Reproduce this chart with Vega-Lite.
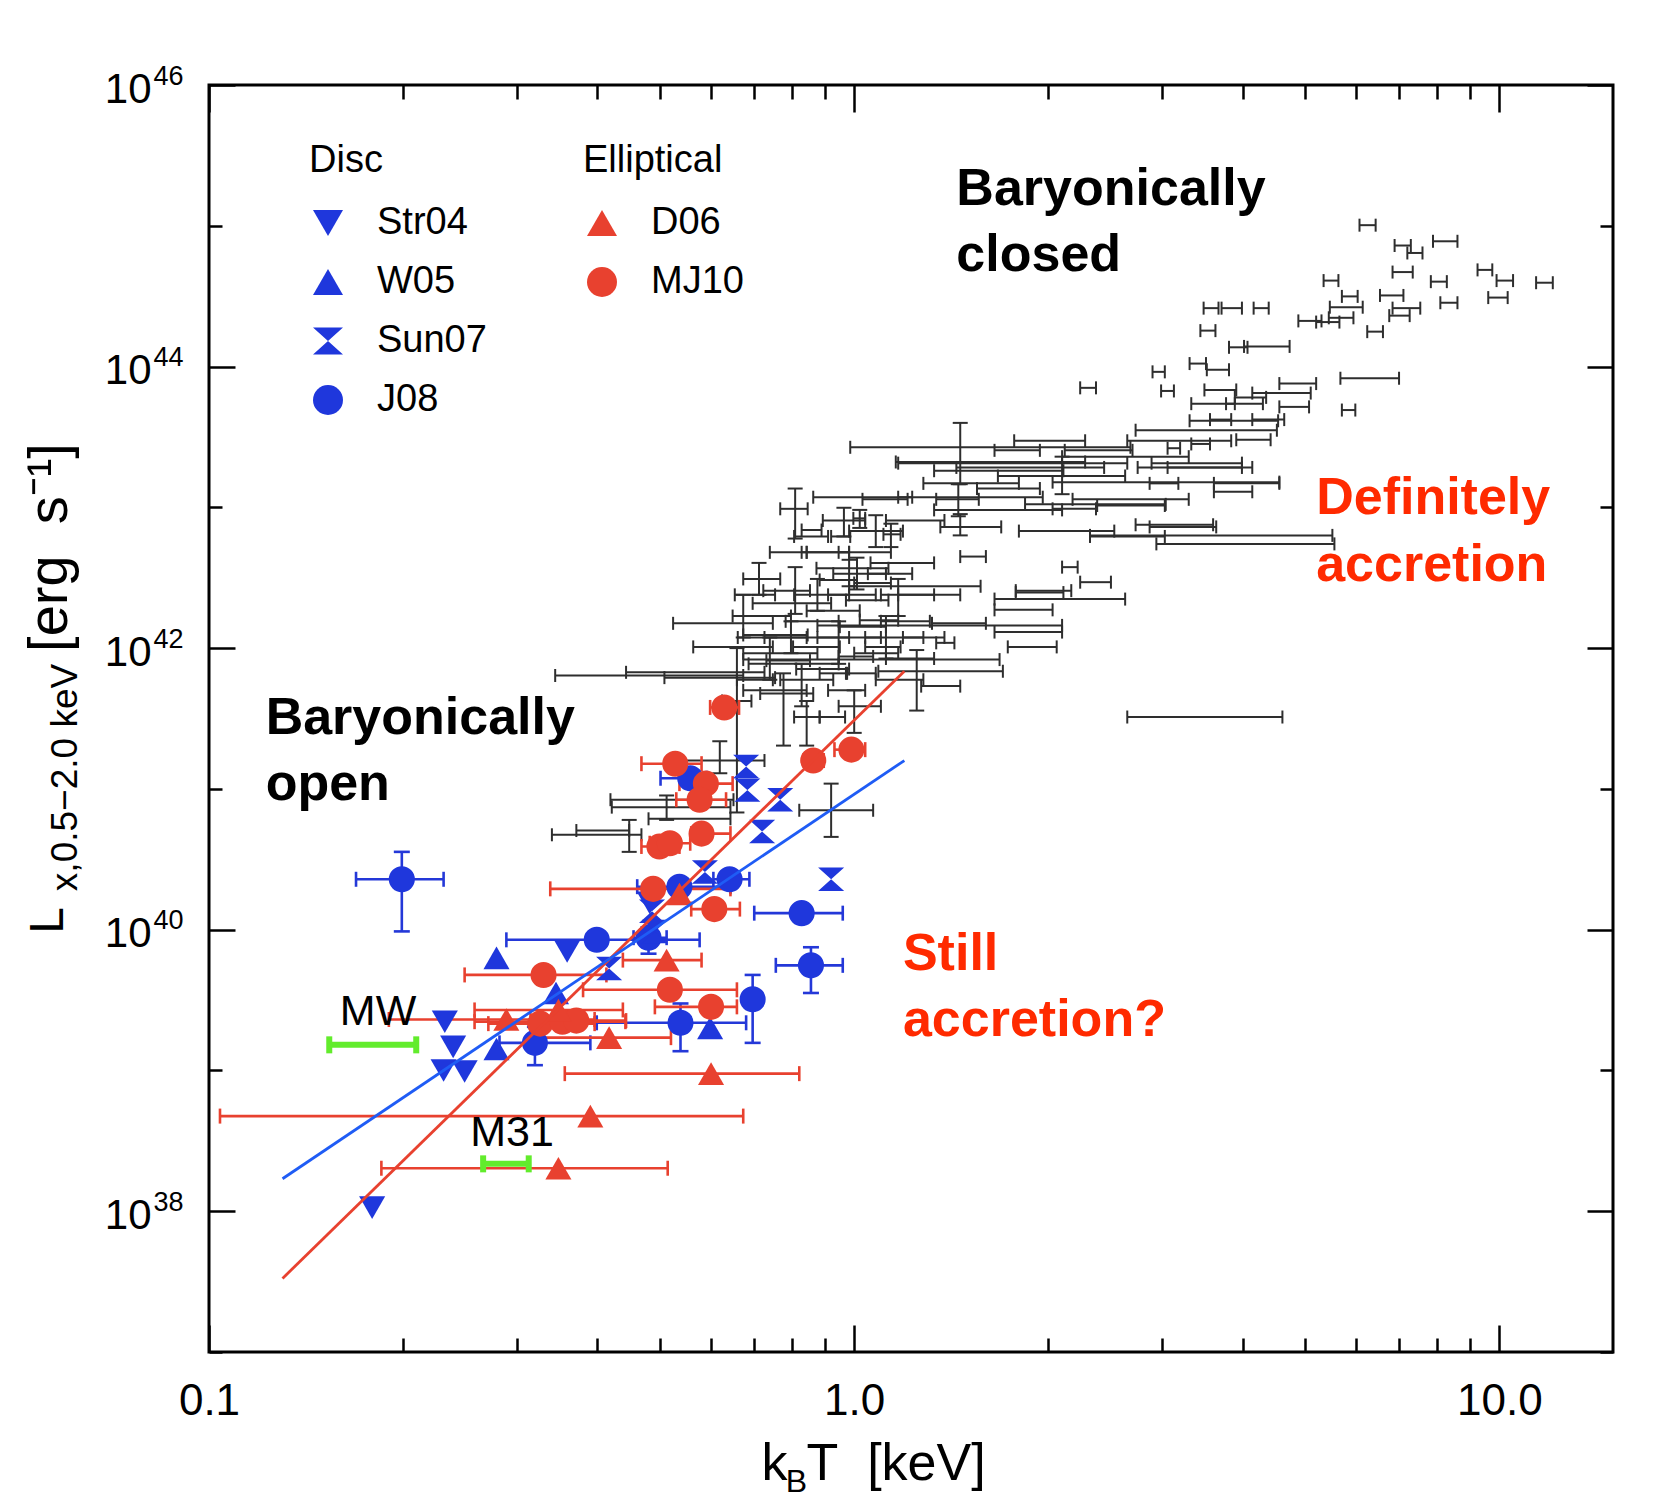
{
"$schema": "https://vega.github.io/schema/vega-lite/v6.json",
"width": 1404, "height": 1267,
"autosize": {"type": "none"},
"padding": {"left": 209, "top": 85, "right": 52, "bottom": 154},
"background": "white",
"config": {
 "view": {"stroke": "black", "strokeWidth": 3},
 "axis": {"grid": false, "domain": false, "tickColor": "black", "tickWidth": 2.5, "labelColor": "black", "titleColor": "black", "labelFont": "Liberation Sans", "titleFont": "Liberation Sans", "titleFontWeight": "normal"}
},
"datasets": {
 "gal": [
  {"T":6.24,"L":1.01e45,"Tlo":6.07,"Thi":6.43},
  {"T":7.07,"L":7.24e44,"Tlo":6.88,"Thi":7.29},
  {"T":7.37,"L":6.41e44,"Tlo":7.20,"Thi":7.60},
  {"T":8.26,"L":7.76e44,"Tlo":7.89,"Thi":8.61},
  {"T":7.07,"L":4.69e44,"Tlo":6.83,"Thi":7.34},
  {"T":5.48,"L":4.08e44,"Tlo":5.34,"Thi":5.63},
  {"T":8.04,"L":4.01e44,"Tlo":7.83,"Thi":8.29},
  {"T":9.46,"L":4.86e44,"Tlo":9.25,"Thi":9.75},
  {"T":10.2,"L":4.08e44,"Tlo":9.90,"Thi":10.5},
  {"T":11.8,"L":3.94e44,"Tlo":11.4,"Thi":12.1},
  {"T":9.94,"L":3.09e44,"Tlo":9.61,"Thi":10.3},
  {"T":8.35,"L":2.84e44,"Tlo":8.10,"Thi":8.61},
  {"T":6.78,"L":3.20e44,"Tlo":6.53,"Thi":7.10},
  {"T":7.18,"L":2.60e44,"Tlo":6.83,"Thi":7.54},
  {"T":6.99,"L":2.30e44,"Tlo":6.75,"Thi":7.26},
  {"T":6.43,"L":1.77e44,"Tlo":6.24,"Thi":6.60},
  {"T":5.85,"L":3.15e44,"Tlo":5.70,"Thi":6.03},
  {"T":5.83,"L":2.64e44,"Tlo":5.46,"Thi":6.14},
  {"T":5.05,"L":2.11e44,"Tlo":4.88,"Thi":5.30},
  {"T":5.40,"L":2.07e44,"Tlo":5.20,"Thi":5.65},
  {"T":5.67,"L":2.22e44,"Tlo":5.44,"Thi":5.94},
  {"T":3.57,"L":2.60e44,"Tlo":3.48,"Thi":3.67},
  {"T":3.85,"L":2.60e44,"Tlo":3.71,"Thi":3.99},
  {"T":4.27,"L":2.60e44,"Tlo":4.16,"Thi":4.39},
  {"T":3.53,"L":1.80e44,"Tlo":3.44,"Thi":3.63},
  {"T":5.83,"L":4.91e43,"Tlo":5.70,"Thi":5.98},
  {"T":6.10,"L":8.26e43,"Tlo":5.67,"Thi":6.99},
  {"T":2.30,"L":7.06e43,"Tlo":2.24,"Thi":2.37},
  {"T":2.96,"L":9.17e43,"Tlo":2.90,"Thi":3.03},
  {"T":3.06,"L":6.71e43,"Tlo":2.99,"Thi":3.13},
  {"T":3.40,"L":1.05e44,"Tlo":3.31,"Thi":3.51},
  {"T":3.93,"L":1.37e44,"Tlo":3.81,"Thi":4.07},
  {"T":4.19,"L":1.39e44,"Tlo":4.02,"Thi":4.73},
  {"T":3.69,"L":6.82e43,"Tlo":3.49,"Thi":3.91},
  {"T":3.64,"L":9.49e43,"Tlo":3.52,"Thi":3.81},
  {"T":3.56,"L":5.45e43,"Tlo":3.33,"Thi":3.89},
  {"T":4.10,"L":6.04e43,"Tlo":3.89,"Thi":4.35},
  {"T":4.73,"L":7.57e43,"Tlo":4.56,"Thi":5.20},
  {"T":4.50,"L":6.48e43,"Tlo":4.14,"Thi":5.10},
  {"T":4.79,"L":5.17e43,"Tlo":4.56,"Thi":5.07},
  {"T":3.85,"L":4.12e43,"Tlo":3.31,"Thi":4.54},
  {"T":4.01,"L":5.45e43,"Tlo":3.77,"Thi":4.30},
  {"T":3.43,"L":2.82e43,"Tlo":3.33,"Thi":3.56},
  {"T":4.14,"L":3.02e43,"Tlo":3.91,"Thi":4.42},
  {"T":3.12,"L":2.63e43,"Tlo":3.06,"Thi":3.20},
  {"T":3.35,"L":2.06e43,"Tlo":2.89,"Thi":3.99},
  {"T":3.08,"L":1.48e43,"Tlo":2.87,"Thi":3.18},
  {"T":3.85,"L":1.48e43,"Tlo":3.61,"Thi":4.56},
  {"T":3.85,"L":1.29e43,"Tlo":3.61,"Thi":4.14},
  {"T":3.00,"L":7.26e42,"Tlo":2.87,"Thi":3.64},
  {"T":4.26,"L":5.50e42,"Tlo":2.94,"Thi":5.55},
  {"T":3.70,"L":4.20e43,"Tlo":3.56,"Thi":3.84},
  {"T":4.39,"L":4.20e43,"Tlo":4.14,"Thi":4.64},
  {"T":1.46,"L":2.10e43,"Tlo":1.16,"Thi":2.28,"Llo":1.46e43,"Lhi":3.98e43},
  {"T":1.61,"L":2.67e43,"Tlo":0.986,"Thi":2.68},
  {"T":1.73,"L":2.06e43,"Tlo":1.17,"Thi":2.65},
  {"T":1.67,"L":1.82e43,"Tlo":1.33,"Thi":2.11},
  {"T":1.79,"L":2.54e43,"Tlo":1.65,"Thi":1.94},
  {"T":2.02,"L":2.97e43,"Tlo":1.77,"Thi":2.28},
  {"T":3.06,"L":2.97e43,"Tlo":2.65,"Thi":3.84},
  {"T":3.30,"L":3.53e43,"Tlo":2.73,"Thi":4.52},
  {"T":3.18,"L":1.92e43,"Tlo":2.75,"Thi":3.99},
  {"T":2.95,"L":1.51e43,"Tlo":2.03,"Thi":4.56},
  {"T":1.44,"L":1.18e43,"Tlo":1.17,"Thi":1.96},
  {"T":1.45,"L":1.14e43,"Tlo":1.34,"Thi":1.56,"Llo":8.64e42,"Lhi":1.46e43},
  {"T":2.26,"L":1.05e43,"Tlo":1.84,"Thi":3.04},
  {"T":2.18,"L":9.76e42,"Tlo":2.03,"Thi":2.37},
  {"T":3.06,"L":7.52e42,"Tlo":2.73,"Thi":3.60},
  {"T":3.43,"L":6.32e42,"Tlo":2.32,"Thi":5.51},
  {"T":2.15,"L":3.76e42,"Tlo":2.10,"Thi":2.22},
  {"T":2.35,"L":2.94e42,"Tlo":2.24,"Thi":2.50},
  {"T":1.94,"L":2.48e42,"Tlo":1.78,"Thi":2.11},
  {"T":2.10,"L":2.23e42,"Tlo":1.65,"Thi":2.63},
  {"T":1.87,"L":1.02e42,"Tlo":1.73,"Thi":2.06},
  {"T":1.25,"L":6.85e41,"Tlo":1.09,"Thi":1.70,"Llo":3.60e41,"Lhi":9.69e41},
  {"T":1.36,"L":5.37e41,"Tlo":1.27,"Thi":1.46},
  {"T":3.63,"L":3.24e41,"Tlo":2.65,"Thi":4.61},
  {"T":1.33,"L":1.45e42,"Tlo":0.877,"Thi":2.10},
  {"T":1.38,"L":1.09e42,"Tlo":1.34,"Thi":1.43},
  {"T":1.06,"L":8.29e41,"Tlo":0.673,"Thi":1.68},
  {"T":1.86,"L":1.30e42,"Tlo":1.65,"Thi":2.10},
  {"T":1.44,"L":1.50e42,"Tlo":1.32,"Thi":1.60},
  {"T":1.52,"L":4.47e42,"Tlo":1.46,"Thi":1.60},
  {"T":1.46,"L":7.26e42,"Tlo":1.36,"Thi":1.69,"Llo":6.32e42,"Lhi":8.95e42},
  {"T":1.38,"L":2.75e42,"Tlo":0.982,"Thi":1.57},
  {"T":1.98,"L":2.56e42,"Tlo":1.78,"Thi":2.17},
  {"T":1.80,"L":1.87e42,"Tlo":1.65,"Thi":2.03},
  {"T":2.65,"L":6.21e42,"Tlo":2.32,"Thi":3.03},
  {"T":2.68,"L":1.03e43,"Tlo":2.38,"Thi":3.03},
  {"T":2.39,"L":2.54e43,"Tlo":2.12,"Thi":2.70},
  {"T":1.73,"L":1.36e43,"Tlo":1.55,"Thi":1.94},
  {"T":0.810,"L":9.76e42,"Tlo":0.768,"Thi":0.847,"Llo":6.00e42,"Lhi":1.36e43},
  {"T":1.02,"L":1.18e43,"Tlo":0.864,"Thi":1.23},
  {"T":0.860,"L":6.90e42,"Tlo":0.829,"Thi":0.890},
  {"T":0.953,"L":6.21e42,"Tlo":0.921,"Thi":0.986},
  {"T":1.02,"L":8.35e42,"Tlo":0.997,"Thi":1.04,"Llo":7.14e42,"Lhi":9.59e42},
  {"T":1.14,"L":6.43e42,"Tlo":1.11,"Thi":1.18,"Llo":5.22e42,"Lhi":7.65e42},
  {"T":0.982,"L":3.69e42,"Tlo":0.874,"Thi":1.13,"Llo":2.75e42,"Lhi":4.24e42},
  {"T":0.810,"L":2.56e42,"Tlo":0.723,"Thi":0.854,"Llo":1.75e42,"Lhi":3.76e42},
  {"T":0.813,"L":2.08e42,"Tlo":0.696,"Thi":0.921},
  {"T":0.648,"L":1.50e42,"Tlo":0.524,"Thi":0.748},
  {"T":0.673,"L":1.02e42,"Tlo":0.563,"Thi":0.748},
  {"T":0.461,"L":6.39e41,"Tlo":0.344,"Thi":0.673},
  {"T":0.578,"L":6.73e41,"Tlo":0.443,"Thi":0.726},
  {"T":0.624,"L":6.17e41,"Tlo":0.508,"Thi":0.754},
  {"T":0.696,"L":5.96e41,"Tlo":0.658,"Thi":0.748},
  {"T":0.786,"L":8.15e41,"Tlo":0.731,"Thi":0.854},
  {"T":0.854,"L":1.02e42,"Tlo":0.804,"Thi":0.950},
  {"T":0.939,"L":6.62e41,"Tlo":0.884,"Thi":0.975},
  {"T":0.777,"L":4.76e41,"Tlo":0.715,"Thi":0.864,"Llo":2.03e41,"Lhi":6.62e41},
  {"T":0.844,"L":3.24e41,"Tlo":0.807,"Thi":0.884,"Llo":2.03e41,"Lhi":4.21e41},
  {"T":0.928,"L":3.24e41,"Tlo":0.884,"Thi":0.968},
  {"T":0.997,"L":1.42e42,"Tlo":0.950,"Thi":1.12},
  {"T":1.04,"L":2.19e42,"Tlo":0.971,"Thi":1.13},
  {"T":1.07,"L":2.90e42,"Tlo":1.00,"Thi":1.14},
  {"T":0.950,"L":3.05e42,"Tlo":0.884,"Thi":1.01},
  {"T":1.08,"L":1.58e42,"Tlo":1.02,"Thi":1.17},
  {"T":1.11,"L":1.02e42,"Tlo":1.04,"Thi":1.18},
  {"T":0.997,"L":8.73e41,"Tlo":0.946,"Thi":1.07},
  {"T":1.04,"L":6.62e41,"Tlo":0.971,"Thi":1.08},
  {"T":0.658,"L":4.21e41,"Tlo":0.624,"Thi":0.693,"Llo":6.80e40,"Lhi":1.00e42},
  {"T":0.619,"L":1.59e41,"Tlo":0.536,"Thi":0.726,"Llo":1.29e41,"Lhi":2.18e41},
  {"T":0.921,"L":7.05e40,"Tlo":0.822,"Thi":1.07,"Llo":4.56e40,"Lhi":1.09e41},
  {"T":0.536,"L":8.38e40,"Tlo":0.419,"Thi":0.650},
  {"T":0.408,"L":5.06e40,"Tlo":0.371,"Thi":0.448},
  {"T":0.448,"L":4.72e40,"Tlo":0.340,"Thi":0.468,"Llo":3.57e40,"Lhi":6.02e40},
  {"T":0.512,"L":7.42e40,"Tlo":0.421,"Thi":0.643,"Llo":6.02e40,"Lhi":8.98e40},
  {"T":0.524,"L":6.13e40,"Tlo":0.480,"Thi":0.643},
  {"T":1.19,"L":4.03e42,"Tlo":1.06,"Thi":1.33},
  {"T":1.28,"L":2.39e42,"Tlo":1.17,"Thi":1.46},
  {"T":1.23,"L":8.06e42,"Tlo":1.12,"Thi":1.38},
  {"T":1.12,"L":1.19e42,"Tlo":1.04,"Thi":1.28,"Llo":8.43e41,"Lhi":1.69e42},
  {"T":0.894,"L":4.79e42,"Tlo":0.829,"Thi":0.982},
  {"T":0.748,"L":1.24e42,"Tlo":0.673,"Thi":0.847},
  {"T":0.673,"L":1.69e42,"Tlo":0.648,"Thi":0.798,"Llo":1.19e42,"Lhi":2.39e42},
  {"T":0.704,"L":1.19e42,"Tlo":0.660,"Thi":0.844},
  {"T":0.740,"L":9.20e41,"Tlo":0.673,"Thi":0.877,"Llo":5.96e41,"Lhi":1.19e42},
  {"T":0.768,"L":7.73e41,"Tlo":0.686,"Thi":0.946},
  {"T":0.798,"L":1.19e42,"Tlo":0.726,"Thi":0.982,"Llo":9.20e41,"Lhi":1.55e42},
  {"T":0.844,"L":1.55e42,"Tlo":0.783,"Thi":0.946},
  {"T":0.877,"L":2.39e42,"Tlo":0.807,"Thi":0.982,"Llo":1.84e42,"Lhi":3.10e42},
  {"T":0.911,"L":1.84e42,"Tlo":0.844,"Thi":1.02},
  {"T":0.946,"L":1.19e42,"Tlo":0.877,"Thi":1.10,"Llo":7.73e41,"Lhi":1.55e42},
  {"T":0.982,"L":2.39e42,"Tlo":0.911,"Thi":1.08},
  {"T":1.01,"L":3.38e42,"Tlo":0.928,"Thi":1.12,"Llo":2.61e42,"Lhi":4.39e42},
  {"T":1.04,"L":4.79e42,"Tlo":0.946,"Thi":1.14},
  {"T":1.08,"L":6.78e42,"Tlo":0.982,"Thi":1.19,"Llo":5.22e42,"Lhi":8.79e42},
  {"T":1.12,"L":3.38e42,"Tlo":1.05,"Thi":1.23},
  {"T":1.17,"L":2.39e42,"Tlo":1.10,"Thi":1.33,"Llo":1.69e42,"Lhi":3.10e42},
  {"T":0.731,"L":5.01e41,"Tlo":0.673,"Thi":0.844},
  {"T":0.829,"L":5.96e41,"Tlo":0.768,"Thi":0.928,"Llo":3.86e41,"Lhi":7.73e41},
  {"T":0.877,"L":7.10e41,"Tlo":0.813,"Thi":0.982},
  {"T":0.964,"L":5.01e41,"Tlo":0.911,"Thi":1.04},
  {"T":1.00,"L":3.86e41,"Tlo":0.946,"Thi":1.10,"Llo":2.50e41,"Lhi":5.01e41},
  {"T":1.19,"L":1.55e42,"Tlo":1.10,"Thi":1.31},
  {"T":1.21,"L":8.44e41,"Tlo":1.12,"Thi":1.33},
  {"T":1.10,"L":1.14e43,"Tlo":1.03,"Thi":1.21},
  {"T":0.964,"L":8.06e42,"Tlo":0.894,"Thi":1.04,"Llo":6.21e42,"Lhi":9.93e42},
  {"T":0.911,"L":4.79e42,"Tlo":0.844,"Thi":0.982},
  {"T":0.686,"L":2.39e42,"Tlo":0.653,"Thi":0.754},
  {"T":0.712,"L":3.10e42,"Tlo":0.673,"Thi":0.768,"Llo":2.39e42,"Lhi":4.03e42},
  {"T":0.783,"L":4.79e42,"Tlo":0.740,"Thi":0.844},
  {"T":0.844,"L":6.21e42,"Tlo":0.807,"Thi":0.911},
  {"T":1.06,"L":9.20e41,"Tlo":1.00,"Thi":1.17},
  {"T":1.14,"L":5.96e41,"Tlo":1.08,"Thi":1.28},
  {"T":1.26,"L":1.19e42,"Tlo":1.19,"Thi":1.38},
  {"T":1.80,"L":1.92e43,"Tlo":1.44,"Thi":2.44},
  {"T":2.10,"L":1.67e43,"Tlo":1.67,"Thi":2.63,"Llo":1.24e43,"Lhi":2.29e43},
  {"T":2.53,"L":2.29e43,"Tlo":2.10,"Thi":3.30},
  {"T":1.44,"L":1.48e43,"Tlo":1.28,"Thi":1.80},
  {"T":2.53,"L":1.14e43,"Tlo":2.18,"Thi":3.30},
  {"T":1.61,"L":9.59e42,"Tlo":1.33,"Thi":2.10},
  {"T":2.10,"L":6.78e42,"Tlo":1.80,"Thi":2.53},
  {"T":3.56,"L":1.92e43,"Tlo":3.06,"Thi":4.14}
 ],
 "disc": [
  {"series":"J08","T":0.199,"L":2.28e40,"Tlo":0.169,"Thi":0.231,"Llo":9.72e39,"Lhi":3.57e40},
  {"series":"J08","T":0.320,"L":1.57e39,"Tlo":0.282,"Thi":0.390,"Llo":1.09e39,"Lhi":2.04e39},
  {"series":"J08","T":0.399,"L":8.47e39,"Tlo":0.289,"Thi":0.576},
  {"series":"J08","T":0.480,"L":8.77e39,"Tlo":0.455,"Thi":0.512,"Llo":6.75e39,"Lhi":1.04e40},
  {"series":"J08","T":0.538,"L":2.18e39,"Tlo":0.399,"Thi":0.680,"Llo":1.37e39,"Lhi":2.99e39},
  {"series":"J08","T":0.696,"L":3.20e39,"Tlo":0.673,"Thi":0.720,"Llo":1.57e39,"Lhi":4.77e39},
  {"series":"J08","T":0.857,"L":5.58e39,"Tlo":0.756,"Thi":0.960,"Llo":3.55e39,"Lhi":7.50e39},
  {"series":"J08","T":0.829,"L":1.31e40,"Tlo":0.700,"Thi":0.960},
  {"series":"J08","T":0.641,"L":2.28e40,"Tlo":0.605,"Thi":0.688},
  {"series":"J08","T":0.536,"L":2.02e40,"Tlo":0.461,"Thi":0.643},
  {"series":"J08","T":0.557,"L":1.19e41,"Tlo":0.501,"Thi":0.591},
  {"series":"W05","T":0.279,"L":6.30e39},
  {"series":"W05","T":0.279,"L":1.42e39},
  {"series":"W05","T":0.598,"L":2.00e39},
  {"series":"W05","T":0.345,"L":3.55e39},
  {"series":"Str04","T":0.179,"L":1.06e38},
  {"series":"Str04","T":0.232,"L":2.22e39},
  {"series":"Str04","T":0.239,"L":1.47e39},
  {"series":"Str04","T":0.231,"L":1.00e39},
  {"series":"Str04","T":0.249,"L":9.83e38},
  {"series":"Str04","T":0.359,"L":6.99e39},
  {"series":"Str04","T":0.482,"L":1.55e40},
  {"series":"Sun07","T":0.680,"L":1.44e41},
  {"series":"Sun07","T":0.683,"L":9.80e40},
  {"series":"Sun07","T":0.768,"L":8.38e40},
  {"series":"Sun07","T":0.720,"L":4.98e40},
  {"series":"Sun07","T":0.587,"L":2.57e40},
  {"series":"Sun07","T":0.921,"L":2.28e40},
  {"series":"Sun07","T":0.486,"L":1.35e40},
  {"series":"Sun07","T":0.491,"L":9.72e39},
  {"series":"Sun07","T":0.417,"L":5.30e39}
 ],
 "ell": [
  {"series":"MJ10","T":0.629,"L":3.79e41,"Tlo":0.598,"Thi":0.663},
  {"series":"MJ10","T":0.528,"L":1.51e41,"Tlo":0.468,"Thi":0.580},
  {"series":"MJ10","T":0.589,"L":1.09e41,"Tlo":0.536,"Thi":0.648},
  {"series":"MJ10","T":0.576,"L":8.38e40,"Tlo":0.530,"Thi":0.633},
  {"series":"MJ10","T":0.864,"L":1.59e41,"Tlo":0.835,"Thi":0.897},
  {"series":"MJ10","T":0.990,"L":1.90e41,"Tlo":0.932,"Thi":1.04},
  {"series":"MJ10","T":0.580,"L":4.81e40,"Tlo":0.559,"Thi":0.643},
  {"series":"MJ10","T":0.499,"L":3.90e40,"Tlo":0.468,"Thi":0.536},
  {"series":"MJ10","T":0.518,"L":4.11e40,"Tlo":0.482,"Thi":0.557},
  {"series":"MJ10","T":0.488,"L":1.95e40,"Tlo":0.338,"Thi":0.643},
  {"series":"MJ10","T":0.607,"L":1.40e40,"Tlo":0.559,"Thi":0.665},
  {"series":"MJ10","T":0.518,"L":3.74e39,"Tlo":0.380,"Thi":0.658},
  {"series":"MJ10","T":0.600,"L":2.83e39,"Tlo":0.491,"Thi":0.658},
  {"series":"MJ10","T":0.330,"L":4.77e39,"Tlo":0.249,"Thi":0.413},
  {"series":"MJ10","T":0.326,"L":2.15e39,"Tlo":0.271,"Thi":0.396},
  {"series":"MJ10","T":0.353,"L":2.22e39,"Tlo":0.258,"Thi":0.442},
  {"series":"MJ10","T":0.371,"L":2.26e39,"Tlo":0.315,"Thi":0.443},
  {"series":"D06","T":0.289,"L":2.30e39,"Tlo":0.190,"Thi":0.396},
  {"series":"D06","T":0.348,"L":2.69e39,"Tlo":0.258,"Thi":0.438},
  {"series":"D06","T":0.417,"L":1.71e39,"Tlo":0.315,"Thi":0.520},
  {"series":"D06","T":0.512,"L":6.08e39,"Tlo":0.438,"Thi":0.580},
  {"series":"D06","T":0.600,"L":9.49e38,"Tlo":0.356,"Thi":0.822},
  {"series":"D06","T":0.390,"L":4.74e38,"Tlo":0.104,"Thi":0.673},
  {"series":"D06","T":0.348,"L":2.02e38,"Tlo":0.185,"Thi":0.514},
  {"series":"D06","T":0.536,"L":1.79e40}
 ],
 "fits": [
  {"fit":"Elliptical","T":0.130,"L":3.33e37},
  {"fit":"Elliptical","T":1.196,"L":6.85e41},
  {"fit":"Disc","T":0.130,"L":1.70e38},
  {"fit":"Disc","T":1.196,"L":1.59e41}
 ],
 "local": [
  {"name":"MW","Tlo":0.1536,"Thi":0.2095,"L":1.52e39},
  {"name":"M31","Tlo":0.266,"Thi":0.313,"L":2.17e38}
 ],
 "notes": [
  {"label":"Baryonically","kind":"region","T":1.44,"L":1.82e45},
  {"label":"closed","kind":"region","T":1.44,"L":6.19e44},
  {"label":"Baryonically","kind":"region","T":0.1224,"L":3.19e41},
  {"label":"open","kind":"region","T":0.1224,"L":1.09e41},
  {"label":"Definitely","kind":"accretion","T":5.20,"L":1.16e43},
  {"label":"accretion","kind":"accretion","T":5.20,"L":3.89e42},
  {"label":"Still","kind":"accretion","T":1.19,"L":6.75e39},
  {"label":"accretion?","kind":"accretion","T":1.19,"L":2.30e39},
  {"label":"MW","kind":"galaxy","T":0.1595,"L":2.60e39},
  {"label":"M31","kind":"galaxy","T":0.254,"L":3.59e38}
 ]
},
"resolve": {
 "scale": {"color": "independent", "shape": "independent"},
 "axis": {"x": "independent", "y": "independent"},
 "legend": {"color": "independent", "shape": "independent"}
},
"layer": [
 {"data": {"name": "gal"},
  "mark": {"type": "rule", "color": "#2e2e2e", "strokeWidth": 2},
  "encoding": {
   "x": {"field": "Tlo", "type": "quantitative", "scale": {"type": "log", "domain": [0.1, 15], "nice": false},
    "axis": {"orient": "bottom", "values": [0.1, 1, 10], "labelExpr": "datum.value < 0.5 ? '0.1' : (datum.value < 5 ? '1.0' : '10.0')", "ticks": false, "labelFontSize": 44, "labelPadding": 27, "labelFlush": false, "labelOverlap": false, "title": "k", "titleFontSize": 52, "titleX": 565, "titleY": 111, "titleBaseline": "middle", "titleAlign": "center"}},
   "x2": {"field": "Thi"},
   "y": {"field": "L", "type": "quantitative", "scale": {"type": "log", "domain": [1e37, 1e46], "nice": false},
    "axis": {"orient": "left", "values": [1e38, 1e40, 1e42, 1e44, 1e46], "labelExpr": "'10'", "ticks": false, "labelFontSize": 42, "labelPadding": 58, "labelOffset": 4, "labelFlush": false, "labelOverlap": false, "title": "L", "titleFontSize": 48, "titleX": -161, "titleY": 835, "titleAngle": -90, "titleBaseline": "middle", "titleAlign": "center"}}
  }},
 {"data": {"name": "gal"},
  "transform": [{"filter": "isValid(datum.Llo)"}],
  "mark": {"type": "rule", "color": "#2e2e2e", "strokeWidth": 2},
  "encoding": {
   "x": {"field": "T", "type": "quantitative", "scale": {"type": "log", "domain": [0.1, 15], "nice": false},
    "axis": {"orient": "bottom", "values": [0.1, 1, 10], "labels": false, "tickSize": -27, "title": "B", "titleFontSize": 32, "titleX": 587, "titleY": 129, "titleBaseline": "middle", "titleAlign": "center"}},
   "y": {"field": "Llo", "type": "quantitative", "scale": {"type": "log", "domain": [1e37, 1e46], "nice": false},
    "axis": {"orient": "left", "values": [1e38, 1e40, 1e42, 1e44, 1e46], "labels": false, "tickSize": -26, "title": "x,0.5−2.0 keV", "titleFontSize": 37, "titleX": -144, "titleY": 692, "titleAngle": -90, "titleBaseline": "middle", "titleAlign": "center"}},
   "y2": {"field": "Lhi"}
  }},
 {"data": {"name": "gal"},
  "mark": {"type": "tick", "orient": "vertical", "color": "#2e2e2e", "size": 13, "thickness": 2, "opacity": 1},
  "encoding": {
   "x": {"field": "Tlo", "type": "quantitative", "scale": {"type": "log", "domain": [0.1, 15], "nice": false},
    "axis": {"orient": "bottom", "values": [0.2, 0.3, 0.4, 0.5, 0.6, 0.7, 0.8, 0.9, 2, 3, 4, 5, 6, 7, 8, 9], "labels": false, "tickSize": -14, "title": "T\u00a0\u00a0[keV]", "titleFontSize": 52, "titleX": 597, "titleY": 111, "titleBaseline": "middle", "titleAlign": "left"}},
   "y": {"field": "L", "type": "quantitative", "scale": {"type": "log", "domain": [1e37, 1e46], "nice": false},
    "axis": {"orient": "left", "values": [1e37, 1e39, 1e41, 1e43, 1e45], "labels": false, "tickSize": -13, "title": "[erg\u00a0\u00a0s⁻¹]", "titleFontSize": 56, "titleX": -160, "titleY": 462, "titleAngle": -90, "titleBaseline": "middle", "titleAlign": "center"}}
  }},
 {"data": {"name": "gal"},
  "mark": {"type": "tick", "orient": "vertical", "color": "#2e2e2e", "size": 13, "thickness": 2, "opacity": 1},
  "encoding": {
   "x": {"field": "Thi", "type": "quantitative", "scale": {"type": "log", "domain": [0.1, 15], "nice": false},
    "axis": {"orient": "top", "values": [0.1, 1, 10], "labels": false, "tickSize": -27, "title": null}},
   "y": {"field": "L", "type": "quantitative", "scale": {"type": "log", "domain": [1e37, 1e46], "nice": false},
    "axis": {"orient": "right", "values": [1e38, 1e40, 1e42, 1e44, 1e46], "labels": false, "tickSize": -26, "title": null}}
  }},
 {"data": {"name": "gal"},
  "transform": [{"filter": "isValid(datum.Llo)"}],
  "mark": {"type": "tick", "orient": "horizontal", "color": "#2e2e2e", "size": 15, "thickness": 2, "opacity": 1},
  "encoding": {
   "x": {"field": "T", "type": "quantitative", "scale": {"type": "log", "domain": [0.1, 15], "nice": false},
    "axis": {"orient": "top", "values": [0.2, 0.3, 0.4, 0.5, 0.6, 0.7, 0.8, 0.9, 2, 3, 4, 5, 6, 7, 8, 9], "labels": false, "tickSize": -14, "title": null}},
   "y": {"field": "Llo", "type": "quantitative", "scale": {"type": "log", "domain": [1e37, 1e46], "nice": false},
    "axis": {"orient": "right", "values": [1e37, 1e39, 1e41, 1e43, 1e45], "labels": false, "tickSize": -13, "title": null}}
  }},
 {"data": {"name": "gal"},
  "transform": [{"filter": "isValid(datum.Lhi)"}],
  "mark": {"type": "tick", "orient": "horizontal", "color": "#2e2e2e", "size": 15, "thickness": 2, "opacity": 1},
  "encoding": {
   "x": {"field": "T", "type": "quantitative", "scale": {"type": "log", "domain": [0.1, 15], "nice": false}, "axis": null},
   "y": {"field": "Lhi", "type": "quantitative", "scale": {"type": "log", "domain": [1e37, 1e46], "nice": false},
    "axis": {"orient": "left", "values": [1e38, 1e40, 1e42, 1e44, 1e46], "labelExpr": "datum.value < 1e39 ? '38' : (datum.value < 1e41 ? '40' : (datum.value < 1e43 ? '42' : (datum.value < 1e45 ? '44' : '46')))", "ticks": false, "labelFontSize": 27, "labelPadding": 26, "labelOffset": -9, "labelFlush": false, "labelOverlap": false, "title": null}}
  }},
 {"data": {"name": "disc"},
  "transform": [{"filter": "isValid(datum.Tlo)"}],
  "mark": {"type": "rule", "color": "#2438d8", "strokeWidth": 2.6},
  "encoding": {
   "x": {"field": "Tlo", "type": "quantitative", "scale": {"type": "log", "domain": [0.1, 15], "nice": false}, "axis": null},
   "x2": {"field": "Thi"},
   "y": {"field": "L", "type": "quantitative", "scale": {"type": "log", "domain": [1e37, 1e46], "nice": false}, "axis": null}
  }},
 {"data": {"name": "disc"},
  "transform": [{"filter": "isValid(datum.Tlo)"}, {"fold": ["Tlo", "Thi"], "as": ["end", "Tcap"]}],
  "mark": {"type": "tick", "orient": "vertical", "color": "#2438d8", "size": 15, "thickness": 2.6, "opacity": 1},
  "encoding": {
   "x": {"field": "Tcap", "type": "quantitative", "scale": {"type": "log", "domain": [0.1, 15], "nice": false}, "axis": null},
   "y": {"field": "L", "type": "quantitative", "scale": {"type": "log", "domain": [1e37, 1e46], "nice": false}, "axis": null}
  }},
 {"data": {"name": "disc"},
  "transform": [{"filter": "isValid(datum.Llo)"}],
  "mark": {"type": "rule", "color": "#2438d8", "strokeWidth": 2.6},
  "encoding": {
   "x": {"field": "T", "type": "quantitative", "scale": {"type": "log", "domain": [0.1, 15], "nice": false}, "axis": null},
   "y": {"field": "Llo", "type": "quantitative", "scale": {"type": "log", "domain": [1e37, 1e46], "nice": false}, "axis": null},
   "y2": {"field": "Lhi"}
  }},
 {"data": {"name": "disc"},
  "transform": [{"filter": "isValid(datum.Llo)"}, {"fold": ["Llo", "Lhi"], "as": ["end", "Lcap"]}],
  "mark": {"type": "tick", "orient": "horizontal", "color": "#2438d8", "size": 16, "thickness": 2.6, "opacity": 1},
  "encoding": {
   "x": {"field": "T", "type": "quantitative", "scale": {"type": "log", "domain": [0.1, 15], "nice": false}, "axis": null},
   "y": {"field": "Lcap", "type": "quantitative", "scale": {"type": "log", "domain": [1e37, 1e46], "nice": false}, "axis": null}
  }},
 {"data": {"name": "ell"},
  "transform": [{"filter": "isValid(datum.Tlo)"}],
  "mark": {"type": "rule", "color": "#e8412f", "strokeWidth": 2.6},
  "encoding": {
   "x": {"field": "Tlo", "type": "quantitative", "scale": {"type": "log", "domain": [0.1, 15], "nice": false}, "axis": null},
   "x2": {"field": "Thi"},
   "y": {"field": "L", "type": "quantitative", "scale": {"type": "log", "domain": [1e37, 1e46], "nice": false}, "axis": null}
  }},
 {"data": {"name": "ell"},
  "transform": [{"filter": "isValid(datum.Tlo)"}, {"fold": ["Tlo", "Thi"], "as": ["end", "Tcap"]}],
  "mark": {"type": "tick", "orient": "vertical", "color": "#e8412f", "size": 15, "thickness": 2.6, "opacity": 1},
  "encoding": {
   "x": {"field": "Tcap", "type": "quantitative", "scale": {"type": "log", "domain": [0.1, 15], "nice": false}, "axis": null},
   "y": {"field": "L", "type": "quantitative", "scale": {"type": "log", "domain": [1e37, 1e46], "nice": false}, "axis": null}
  }},
 {"data": {"name": "disc"},
  "mark": {"type": "point", "filled": true, "size": 680, "opacity": 1, "strokeWidth": 0},
  "encoding": {
   "x": {"field": "T", "type": "quantitative", "scale": {"type": "log", "domain": [0.1, 15], "nice": false}, "axis": null},
   "y": {"field": "L", "type": "quantitative", "scale": {"type": "log", "domain": [1e37, 1e46], "nice": false}, "axis": null},
   "shape": {"field": "series", "type": "nominal",
    "scale": {"domain": ["Str04", "W05", "Sun07", "J08"], "range": ["triangle-down", "triangle-up", "M-1,-0.9L1,-0.9L-1,0.9L1,0.9Z", "circle"]},
    "legend": {"title": "Disc", "orient": "none", "legendX": 100, "legendY": 57, "padding": 0, "titleFont": "Liberation Sans", "titleFontSize": 38, "titleFontWeight": "normal", "titleColor": "black", "titlePadding": 24, "labelFont": "Liberation Sans", "labelFontSize": 38, "labelColor": "black", "labelOffset": 30, "rowPadding": 21, "symbolSize": 900, "symbolStrokeWidth": 0}},
   "color": {"field": "series", "type": "nominal",
    "scale": {"domain": ["Str04", "W05", "Sun07", "J08"], "range": ["#1f37dc", "#1f37dc", "#1f37dc", "#1f37dc"]},
    "legend": {"title": "Disc", "orient": "none", "legendX": 100, "legendY": 57, "padding": 0, "titleFont": "Liberation Sans", "titleFontSize": 38, "titleFontWeight": "normal", "titleColor": "black", "titlePadding": 24, "labelFont": "Liberation Sans", "labelFontSize": 38, "labelColor": "black", "labelOffset": 30, "rowPadding": 21, "symbolSize": 900, "symbolStrokeWidth": 0}}
  }},
 {"data": {"name": "ell"},
  "mark": {"type": "point", "filled": true, "size": 680, "opacity": 1, "strokeWidth": 0},
  "encoding": {
   "x": {"field": "T", "type": "quantitative", "scale": {"type": "log", "domain": [0.1, 15], "nice": false}, "axis": null},
   "y": {"field": "L", "type": "quantitative", "scale": {"type": "log", "domain": [1e37, 1e46], "nice": false}, "axis": null},
   "shape": {"field": "series", "type": "nominal",
    "scale": {"domain": ["D06", "MJ10"], "range": ["triangle-up", "circle"]},
    "legend": {"title": "Elliptical", "orient": "none", "legendX": 374, "legendY": 57, "padding": 0, "titleFont": "Liberation Sans", "titleFontSize": 38, "titleFontWeight": "normal", "titleColor": "black", "titlePadding": 24, "labelFont": "Liberation Sans", "labelFontSize": 38, "labelColor": "black", "labelOffset": 30, "rowPadding": 21, "symbolSize": 900, "symbolStrokeWidth": 0}},
   "color": {"field": "series", "type": "nominal",
    "scale": {"domain": ["D06", "MJ10"], "range": ["#e8412f", "#e8412f"]},
    "legend": {"title": "Elliptical", "orient": "none", "legendX": 374, "legendY": 57, "padding": 0, "titleFont": "Liberation Sans", "titleFontSize": 38, "titleFontWeight": "normal", "titleColor": "black", "titlePadding": 24, "labelFont": "Liberation Sans", "labelFontSize": 38, "labelColor": "black", "labelOffset": 30, "rowPadding": 21, "symbolSize": 900, "symbolStrokeWidth": 0}}
  }},
 {"data": {"name": "fits"},
  "transform": [{"filter": "datum.fit === 'Elliptical'"}],
  "mark": {"type": "line", "color": "#e8412f", "strokeWidth": 2.8},
  "encoding": {
   "x": {"field": "T", "type": "quantitative", "scale": {"type": "log", "domain": [0.1, 15], "nice": false}, "axis": null},
   "y": {"field": "L", "type": "quantitative", "scale": {"type": "log", "domain": [1e37, 1e46], "nice": false}, "axis": null}
  }},
 {"data": {"name": "fits"},
  "transform": [{"filter": "datum.fit === 'Disc'"}],
  "mark": {"type": "line", "color": "#1f5cf5", "strokeWidth": 2.8},
  "encoding": {
   "x": {"field": "T", "type": "quantitative", "scale": {"type": "log", "domain": [0.1, 15], "nice": false}, "axis": null},
   "y": {"field": "L", "type": "quantitative", "scale": {"type": "log", "domain": [1e37, 1e46], "nice": false}, "axis": null}
  }},
 {"data": {"name": "local"},
  "mark": {"type": "rule", "color": "#62ec2c", "strokeWidth": 6},
  "encoding": {
   "x": {"field": "Tlo", "type": "quantitative", "scale": {"type": "log", "domain": [0.1, 15], "nice": false}, "axis": null},
   "x2": {"field": "Thi"},
   "y": {"field": "L", "type": "quantitative", "scale": {"type": "log", "domain": [1e37, 1e46], "nice": false}, "axis": null}
  }},
 {"data": {"name": "local"},
  "transform": [{"fold": ["Tlo", "Thi"], "as": ["end", "Tcap"]}],
  "mark": {"type": "tick", "orient": "vertical", "color": "#62ec2c", "size": 17, "thickness": 6, "opacity": 1},
  "encoding": {
   "x": {"field": "Tcap", "type": "quantitative", "scale": {"type": "log", "domain": [0.1, 15], "nice": false}, "axis": null},
   "y": {"field": "L", "type": "quantitative", "scale": {"type": "log", "domain": [1e37, 1e46], "nice": false}, "axis": null}
  }},
 {"data": {"name": "notes"},
  "transform": [{"filter": "datum.kind === 'region'"}],
  "mark": {"type": "text", "align": "left", "baseline": "middle", "font": "Liberation Sans", "fontWeight": "bold", "fontSize": 52, "color": "black"},
  "encoding": {
   "x": {"field": "T", "type": "quantitative", "scale": {"type": "log", "domain": [0.1, 15], "nice": false}, "axis": null},
   "y": {"field": "L", "type": "quantitative", "scale": {"type": "log", "domain": [1e37, 1e46], "nice": false}, "axis": null},
   "text": {"field": "label"}
  }},
 {"data": {"name": "notes"},
  "transform": [{"filter": "datum.kind === 'accretion'"}],
  "mark": {"type": "text", "align": "left", "baseline": "middle", "font": "Liberation Sans", "fontWeight": "bold", "fontSize": 52, "color": "#ff2a00"},
  "encoding": {
   "x": {"field": "T", "type": "quantitative", "scale": {"type": "log", "domain": [0.1, 15], "nice": false}, "axis": null},
   "y": {"field": "L", "type": "quantitative", "scale": {"type": "log", "domain": [1e37, 1e46], "nice": false}, "axis": null},
   "text": {"field": "label"}
  }},
 {"data": {"name": "notes"},
  "transform": [{"filter": "datum.kind === 'galaxy'"}],
  "mark": {"type": "text", "align": "left", "baseline": "middle", "font": "Liberation Sans", "fontSize": 43, "color": "black"},
  "encoding": {
   "x": {"field": "T", "type": "quantitative", "scale": {"type": "log", "domain": [0.1, 15], "nice": false}, "axis": null},
   "y": {"field": "L", "type": "quantitative", "scale": {"type": "log", "domain": [1e37, 1e46], "nice": false}, "axis": null},
   "text": {"field": "label"}
  }}
]
}
